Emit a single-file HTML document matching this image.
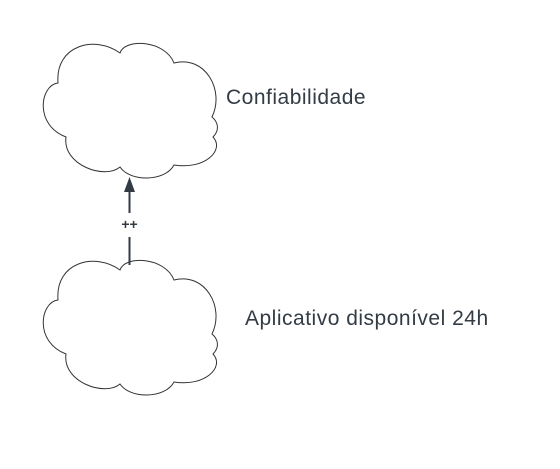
<!DOCTYPE html>
<html><head><meta charset="utf-8"><style>
html,body{margin:0;padding:0;background:#fff;width:560px;height:469px;overflow:hidden}
svg{display:block}
</style></head><body>
<svg width="560" height="469" viewBox="0 0 560 469" xmlns="http://www.w3.org/2000/svg">
<defs>
<path id="c" d="M58,83 C40,85 34,125 66,137 C62,165 105,180 120,167 C130,182 165,182 174,165 C205,170 225,150 213,137 C220,130 218,122 212,117 C225,90 205,55 174,63 C165,40 125,38 120,53 C95,35 55,45 58,83 Z"/>
</defs>
<g fill="#fff" stroke="#333" stroke-width="1">
<use href="#c"/>
<use href="#c" transform="translate(0,217)"/>
</g>
<line x1="129.5" y1="265" x2="129.5" y2="237" stroke="#333b45" stroke-width="2"/>
<line x1="129.5" y1="213" x2="129.5" y2="190" stroke="#333b45" stroke-width="2"/>
<polygon points="129.5,177 124,192 135,192" fill="#333b45"/>
<text x="129.5" y="229" text-anchor="middle" font-family="Liberation Sans, sans-serif" font-size="14" font-weight="bold" fill="#333b45">++</text>
<text x="226" y="104" font-family="Liberation Sans, sans-serif" font-size="21" letter-spacing="0.5" fill="#333b45">Confiabilidade</text>
<text x="245" y="325" font-family="Liberation Sans, sans-serif" font-size="21" letter-spacing="0.5" fill="#333b45">Aplicativo disponível 24h</text>
</svg>
</body></html>
